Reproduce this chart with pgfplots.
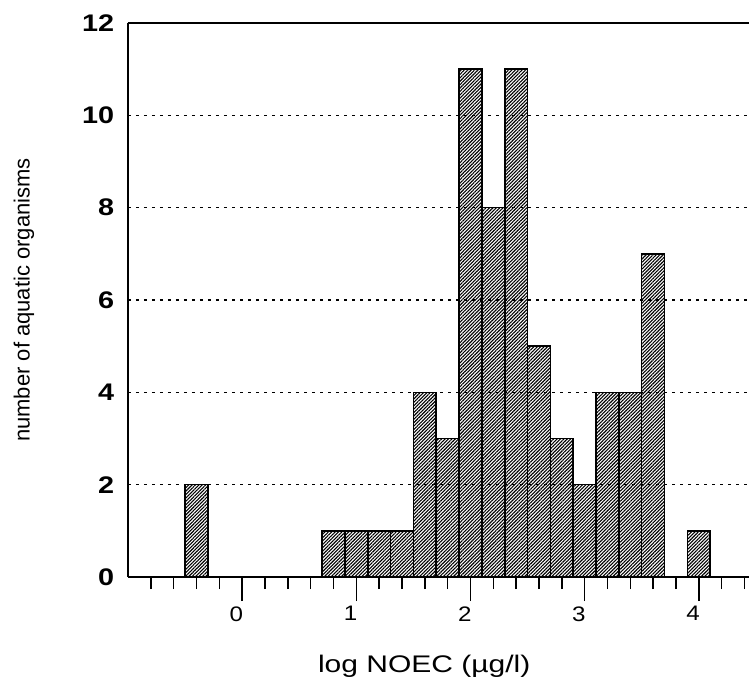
\documentclass[border=0pt]{standalone}
\usepackage{fontspec}
\setmainfont{Liberation Sans}
\usepackage{pgfplots}
\pgfplotsset{compat=1.18}
\usetikzlibrary{patterns.meta}

\pgfplotstableread{
x y
-0.4 2
0.8 1
1.0 1
1.2 1
1.4 1
1.6 4
1.8 3
2.0 11
2.2 8
2.4 11
2.6 5
2.8 3
3.0 2
3.2 4
3.4 4
3.6 7
4.0 1
}\noec

\begin{document}
\begin{tikzpicture}
\begin{axis}[
  scale only axis, width=621pt, height=554pt,
  xmin=-1, xmax=4.44, ymin=0, ymax=12,
  axis x line*=bottom, axis y line*=left,
  axis line style={-, line width=1.5pt},
  xtick={0,1,2,3,4},
  minor xtick={-0.8,-0.6,-0.4,-0.2,0.2,0.4,0.6,0.8,1.2,1.4,1.6,1.8,2.2,2.4,2.6,2.8,3.2,3.4,3.6,3.8,4.2,4.4},
  ytick={0,2,4,6,8,10,12},
  tick align=outside,
  major tick length=24pt, minor tick length=12pt,
  xtick style={line width=1.5pt, black},
  ytick style={draw=none},
  /pgf/number format/assume math mode=true,
  xticklabel style={font=\fontsize{21}{24}\selectfont, xscale=1.15, xshift=-5pt, yshift=-2pt},
  yticklabel style={font=\bfseries\fontsize{24}{28}\selectfont, xscale=1.2, xshift=12pt},
  ymajorgrids,
  grid style={black, line width=1.1pt, dash pattern=on 3pt off 5pt},
  xlabel={log NOEC (µg/l)},
  xlabel style={font=\fontsize{24}{28}\selectfont, xscale=1.25, anchor=base, at={(axis description cs:0.477,-0.1715)}},
  ylabel={number of aquatic organisms},
  ylabel style={font=\fontsize{22}{26}\selectfont, anchor=center, at={(axis description cs:-0.1675,0.5)}},
  clip=false,
]
\addplot[ybar, bar width=0.2, draw=black, line width=1.6pt,
  pattern={Lines[angle=45,distance=2.4pt,line width=1.1pt]}, pattern color=black]
  table[x=x, y=y] {\noec};
\draw[line width=1.5pt] (rel axis cs:0,1) -- (rel axis cs:1,1);
\coordinate (O) at (rel axis cs:0,0);
\end{axis}
\pgfresetboundingbox
\path[use as bounding box] ([shift={(-128pt,-100pt)}]O) rectangle ([shift={(621pt,577pt)}]O);
\end{tikzpicture}
\end{document}
